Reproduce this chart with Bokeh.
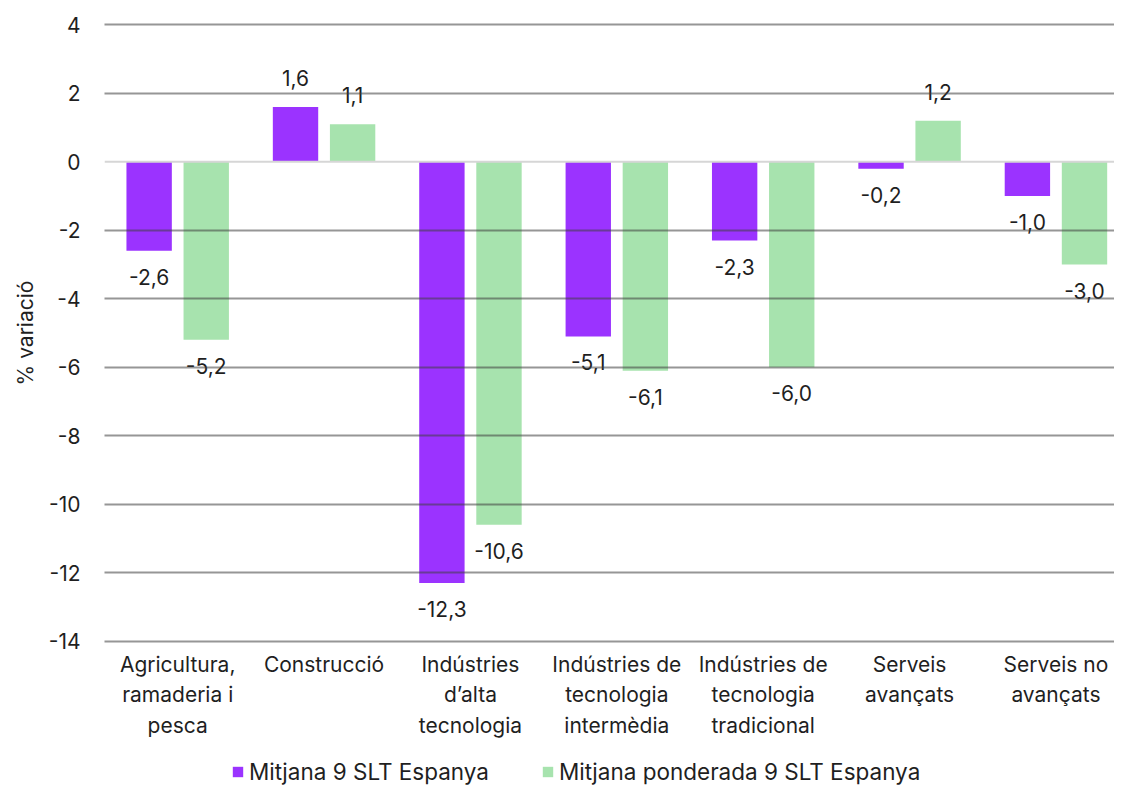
from bokeh.plotting import figure
from bokeh.layouts import column
from bokeh.models import (ColumnDataSource, FixedTicker, Range1d, Span, Legend, LegendItem)
from bokeh.embed import file_html
from bokeh.resources import INLINE
from bokeh.core.properties import value

categories = [
    "Agricultura,\nramaderia i\npesca",
    "Construcció",
    "Indústries\nd’alta\ntecnologia",
    "Indústries de\ntecnologia\nintermèdia",
    "Indústries de\ntecnologia\ntradicional",
    "Serveis\navançats",
    "Serveis no\navançats",
]
mitjana = [-2.6, 1.6, -12.3, -5.1, -2.3, -0.2, -1.0]
ponderada = [-5.2, 1.1, -10.6, -6.1, -6.0, 1.2, -3.0]
series_names = ["Mitjana 9 SLT Espanya", "Mitjana ponderada 9 SLT Espanya"]
y_ticks = [4, 2, 0, -2, -4, -6, -8, -10, -12, -14]

FONT = "Inter"
TXT = "#1f1f1f"
PURPLE = "#9b33ff"
GREEN = "#a7e3ae"
OFF = 0.195
BW = 0.31

idx = list(range(len(categories)))


def fmt(v):
    return f"{v:.1f}".replace(".", ",")


def src(vals, off):
    return ColumnDataSource(dict(
        x=[i + off for i in idx],
        top=vals,
        lab=[fmt(v) for v in vals],
        yoff=[26 if v < 0 else -29 for v in vals],
    ))


s1 = src(mitjana, -OFF)
s2 = src(ponderada, OFF)

p = figure(width=1114, height=745, output_backend="svg", toolbar_location=None,
           x_range=Range1d(-0.5, 6.4), y_range=Range1d(-14.04, 4.04),
           min_border_left=104, min_border_right=0, min_border_top=23,
           min_border_bottom=103, background_fill_color="white",
           border_fill_color="white", outline_line_color=None)

r1 = p.vbar(x="x", top="top", bottom=0, width=BW, source=s1, fill_color=PURPLE, line_color=None)
r2 = p.vbar(x="x", top="top", bottom=0, width=BW, source=s2, fill_color=GREEN, line_color=None)

for s in (s1, s2):
    p.text(x="x", y="top", text="lab", source=s, y_offset="yoff",
           text_align="center", text_baseline="middle",
           text_font=value(FONT), text_font_size="21px", text_color=TXT)

# grid
p.xgrid.visible = False
p.ygrid.ticker = FixedTicker(ticks=[t for t in y_ticks if t != 0])
p.ygrid.grid_line_color = "#404040"
p.ygrid.grid_line_alpha = 0.55
p.ygrid.grid_line_width = 2
p.ygrid.level = "overlay"
p.add_layout(Span(location=0, dimension="width", line_color="#d6d6d6", line_width=2))

# y axis
yax = p.yaxis[0]
yax.ticker = FixedTicker(ticks=y_ticks)
yax.major_label_overrides = {t: str(t) for t in y_ticks}
yax.axis_line_color = None
yax.major_tick_line_color = None
yax.minor_tick_line_color = None
yax.major_label_standoff = 18
yax.major_label_text_font = FONT
yax.major_label_text_font_size = "21px"
yax.major_label_text_color = TXT
yax.axis_label = "% variació"
yax.axis_label_text_font = FONT
yax.axis_label_text_font_size = "21px"
yax.axis_label_text_font_style = "normal"
yax.axis_label_text_color = TXT
yax.axis_label_standoff = 8

# x axis
xax = p.xaxis[0]
xax.ticker = FixedTicker(ticks=idx)
xax.major_label_overrides = {i: c for i, c in zip(idx, categories)}
xax.axis_line_color = None
xax.major_tick_line_color = None
xax.minor_tick_line_color = None
xax.major_label_standoff = 3
xax.major_label_text_font = FONT
xax.major_label_text_font_size = "21px"
xax.major_label_text_color = TXT
xax.major_label_text_line_height = 1.22

# legend strip (its own small figure; the bars of this strip lie outside its view)
pl = figure(width=1114, height=40, output_backend="svg", toolbar_location=None,
            x_range=Range1d(100, 101), y_range=Range1d(100, 101),
            min_border_left=0, min_border_right=0, min_border_top=0, min_border_bottom=0,
            outline_line_color=None, background_fill_color="white", border_fill_color="white")
pl.axis.visible = False
pl.grid.visible = False
l1 = pl.vbar(x="x", top="top", bottom=0, width=BW, source=s1, fill_color=PURPLE, line_color=None)
l2 = pl.vbar(x="x", top="top", bottom=0, width=BW, source=s2, fill_color=GREEN, line_color=None)
legend = Legend(items=[LegendItem(label=series_names[0], renderers=[l1]),
                       LegendItem(label=series_names[1], renderers=[l2])],
                orientation="horizontal", location=(127, 0),
                glyph_width=13, glyph_height=13, label_standoff=5, spacing=52,
                padding=0, margin=0, border_line_color=None,
                label_text_font=FONT, label_text_font_size="22.5px",
                label_text_color=TXT, background_fill_alpha=0)
pl.add_layout(legend, "center")

open("out.html", "w").write(file_html(column(p, pl, spacing=0), INLINE))
